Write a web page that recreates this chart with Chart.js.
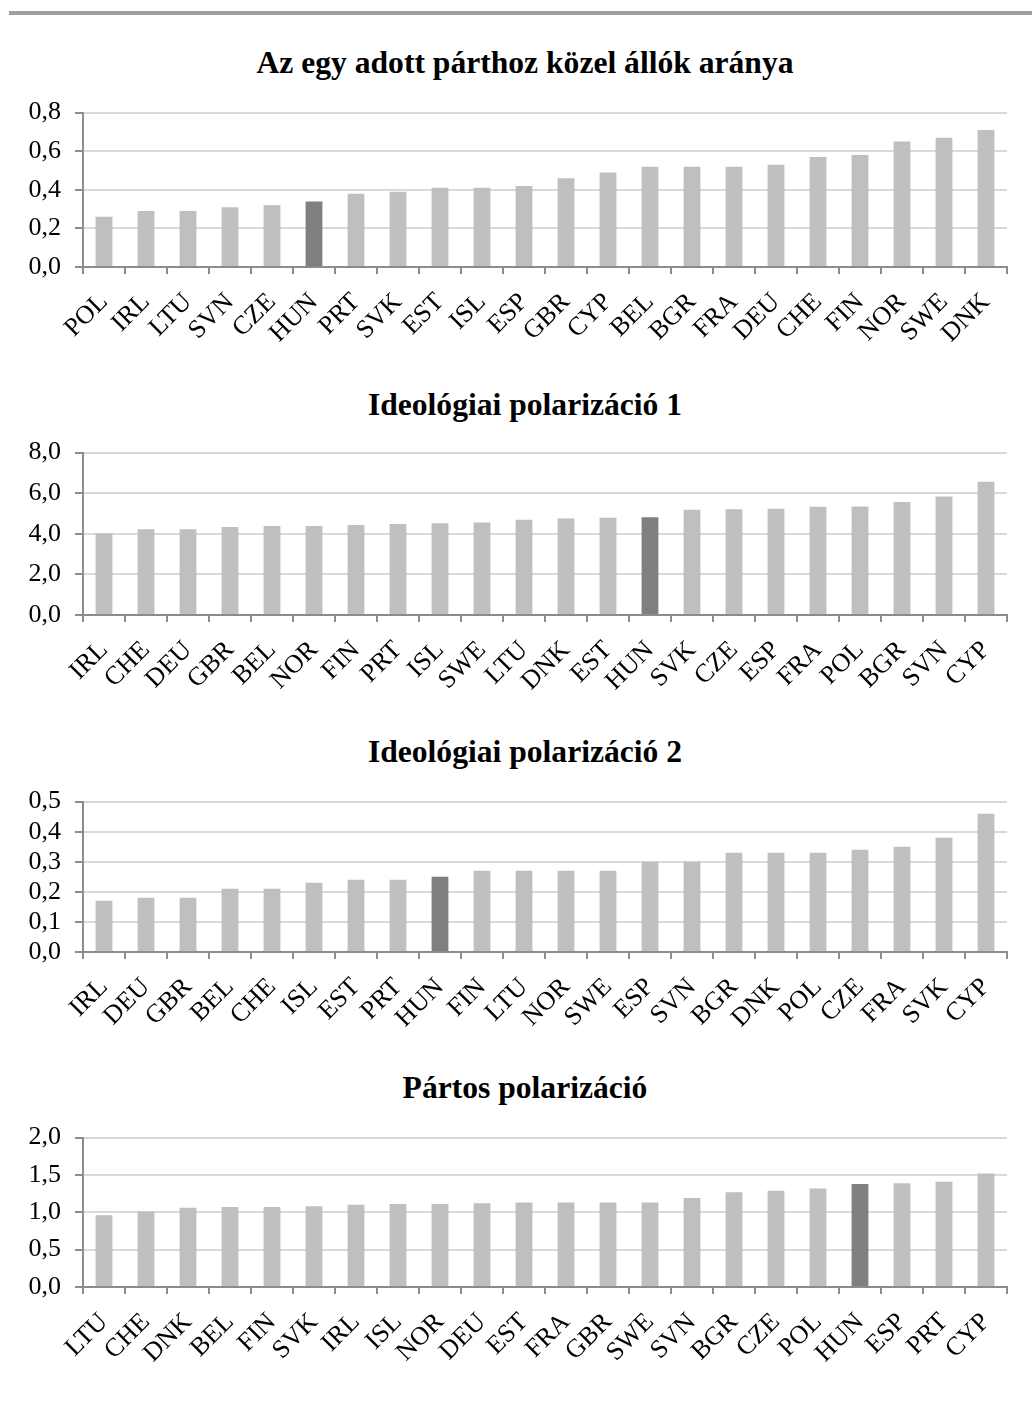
<!DOCTYPE html>
<html>
<head>
<meta charset="utf-8">
<script src="https://cdn.jsdelivr.net/npm/chart.js@4/dist/chart.umd.min.js"></script>
<style>
  body { margin: 0; background: #fff; width: 1032px; height: 1401px; position: relative; overflow: hidden; }
  .topline { position: absolute; left: 9px; right: 0; top: 11px; height: 4px; background: #a0a0a0; }
  .panel { position: absolute; left: 0; width: 1032px; }
  .title { position: absolute; left: 0; width: 1050px; text-align: center; font: bold 31.6px/34px 'Liberation Serif', 'Times New Roman', serif; color: #000; }
</style>
</head>
<body>
<div class="topline"></div>
<div class="title" id="t1"></div>
<div class="title" id="t2"></div>
<div class="title" id="t3"></div>
<div class="title" id="t4"></div>
<div class="panel" id="p1"><canvas id="c1"></canvas></div>
<div class="panel" id="p2"><canvas id="c2"></canvas></div>
<div class="panel" id="p3"><canvas id="c3"></canvas></div>
<div class="panel" id="p4"><canvas id="c4"></canvas></div>
<script>
// chart data
const title1 = 'Az egy adott párthoz közel állók aránya';
const labels1 = ['POL', 'IRL', 'LTU', 'SVN', 'CZE', 'HUN', 'PRT', 'SVK', 'EST', 'ISL', 'ESP', 'GBR', 'CYP', 'BEL', 'BGR', 'FRA', 'DEU', 'CHE', 'FIN', 'NOR', 'SWE', 'DNK'];
const values1 = [0.26, 0.29, 0.29, 0.31, 0.32, 0.34, 0.38, 0.39, 0.41, 0.41, 0.42, 0.46, 0.49, 0.52, 0.52, 0.52, 0.53, 0.57, 0.58, 0.65, 0.67, 0.71];

const title2 = 'Ideológiai polarizáció 1';
const labels2 = ['IRL', 'CHE', 'DEU', 'GBR', 'BEL', 'NOR', 'FIN', 'PRT', 'ISL', 'SWE', 'LTU', 'DNK', 'EST', 'HUN', 'SVK', 'CZE', 'ESP', 'FRA', 'POL', 'BGR', 'SVN', 'CYP'];
const values2 = [4.02, 4.23, 4.23, 4.34, 4.38, 4.39, 4.43, 4.48, 4.52, 4.56, 4.69, 4.75, 4.79, 4.82, 5.18, 5.21, 5.23, 5.33, 5.35, 5.57, 5.84, 6.56];

const title3 = 'Ideológiai polarizáció 2';
const labels3 = ['IRL', 'DEU', 'GBR', 'BEL', 'CHE', 'ISL', 'EST', 'PRT', 'HUN', 'FIN', 'LTU', 'NOR', 'SWE', 'ESP', 'SVN', 'BGR', 'DNK', 'POL', 'CZE', 'FRA', 'SVK', 'CYP'];
const values3 = [0.17, 0.18, 0.18, 0.21, 0.21, 0.23, 0.24, 0.24, 0.25, 0.27, 0.27, 0.27, 0.27, 0.30, 0.30, 0.33, 0.33, 0.33, 0.34, 0.35, 0.38, 0.46];

const title4 = 'Pártos polarizáció';
const labels4 = ['LTU', 'CHE', 'DNK', 'BEL', 'FIN', 'SVK', 'IRL', 'ISL', 'NOR', 'DEU', 'EST', 'FRA', 'GBR', 'SWE', 'SVN', 'BGR', 'CZE', 'POL', 'HUN', 'ESP', 'PRT', 'CYP'];
const values4 = [0.96, 1.01, 1.06, 1.07, 1.07, 1.08, 1.10, 1.11, 1.11, 1.12, 1.13, 1.13, 1.13, 1.13, 1.19, 1.27, 1.29, 1.32, 1.38, 1.39, 1.41, 1.52];

// y axis ranges
const yMax = [0.8, 8, 0.5, 2];
const yStep = [0.2, 2, 0.1, 0.5];

const highlight = 'HUN';
const serif = "'Liberation Serif', 'Times New Roman', serif";

// layout: title top, plot top / bottom (page px)
const panels = [
  { id: 1, titleTop: 46, plotTop: 112, plotBottom: 267 },
  { id: 2, titleTop: 388, plotTop: 452, plotBottom: 615 },
  { id: 3, titleTop: 735, plotTop: 801, plotBottom: 952 },
  { id: 4, titleTop: 1071, plotTop: 1137, plotBottom: 1287 }
];

const titles = [title1, title2, title3, title4];
const labelSets = [labels1, labels2, labels3, labels4];
const valueSets = [values1, values2, values3, values4];

panels.forEach((p, i) => {
  const t = document.getElementById('t' + p.id);
  t.textContent = titles[i];
  t.style.top = p.titleTop + 'px';

  // chart.js adds ~9px above the padding for the top tick label
  const wrap = document.getElementById('p' + p.id);
  const top = p.plotTop - 29;
  wrap.style.top = top + 'px';
  wrap.style.height = (p.plotBottom + 75 - top) + 'px';

  new Chart(document.getElementById('c' + p.id), {
    type: 'bar',
    data: {
      labels: labelSets[i],
      datasets: [{
        data: valueSets[i],
        backgroundColor: labelSets[i].map(l => l === highlight ? '#7f7f7f' : '#bfbfbf'),
        barPercentage: 0.4,
        categoryPercentage: 1
      }]
    },
    options: {
      animation: false,
      responsive: true,
      maintainAspectRatio: false,
      layout: { padding: { left: 20, right: 25, top: 20, bottom: 0 } },
      plugins: {
        legend: { display: false },
        tooltip: { enabled: false },
        title: { display: false }
      },
      scales: {
        x: {
          grid: { drawOnChartArea: false, drawTicks: true, tickLength: 7, color: '#8c8c8c', lineWidth: 2 },
          border: { color: '#8c8c8c', width: 2 },
          ticks: {
            color: '#000',
            font: { family: serif, size: 26 },
            minRotation: 45,
            maxRotation: 45,
            autoSkip: false,
            padding: 13
          },
          afterFit: s => { s.height = 75; }
        },
        y: {
          min: 0,
          max: yMax[i],
          grid: { color: '#d9d9d9', lineWidth: 2, tickLength: 8, tickColor: '#8c8c8c' },
          border: { color: '#8c8c8c', width: 2 },
          ticks: {
            stepSize: yStep[i],
            autoSkip: false,
            color: '#000',
            font: { family: serif, size: 26 },
            padding: 14,
            callback: v => v.toFixed(1).replace('.', ',')
          },
          afterFit: s => { s.width = 63; }
        }
      }
    }
  });
});
</script>
</body>
</html>
